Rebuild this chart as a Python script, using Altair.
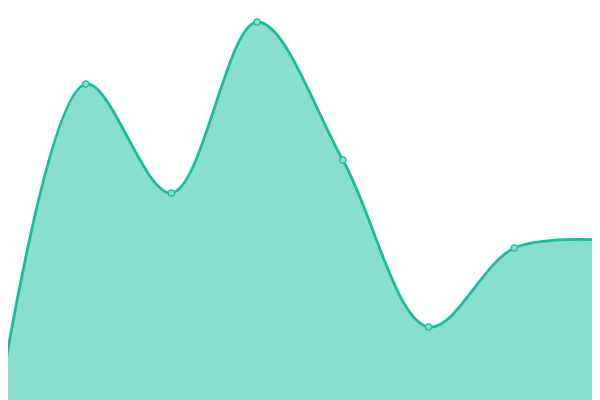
import altair as alt
import pandas as pd

# values (height above baseline, in chart units)
idx = [0, 1, 2, 3, 4, 5, 6, 7]
values = [3, 316, 207, 378, 240, 73, 152, 160]

df = pd.DataFrame({"i": idx, "v": values})

LINE = "#1abc9c"
FILL = "#89dfcf"

x = alt.X("i:Q", axis=None, scale=alt.Scale(domain=[0.09333, 6.90667], nice=False, zero=False))
y = alt.Y("v:Q", axis=None, scale=alt.Scale(domain=[0, 392], nice=False))

area = alt.Chart(df).mark_area(
    interpolate="catmull-rom", color=FILL, clip=True
).encode(x=x, y=y)

line = alt.Chart(df).mark_line(
    interpolate="catmull-rom", color=LINE, strokeWidth=2.8, clip=True
).encode(x=x, y=y)

pts = alt.Chart(df).mark_point(
    filled=True, fill=FILL, stroke=LINE, strokeWidth=1.2, size=40, opacity=1, clip=True
).encode(x=x, y=y)

chart = (area + line + pts).properties(width=584, height=392, padding=0).configure_view(
    stroke=None
)

chart.save("out.html", embed_options={"renderer": "svg", "actions": False})
